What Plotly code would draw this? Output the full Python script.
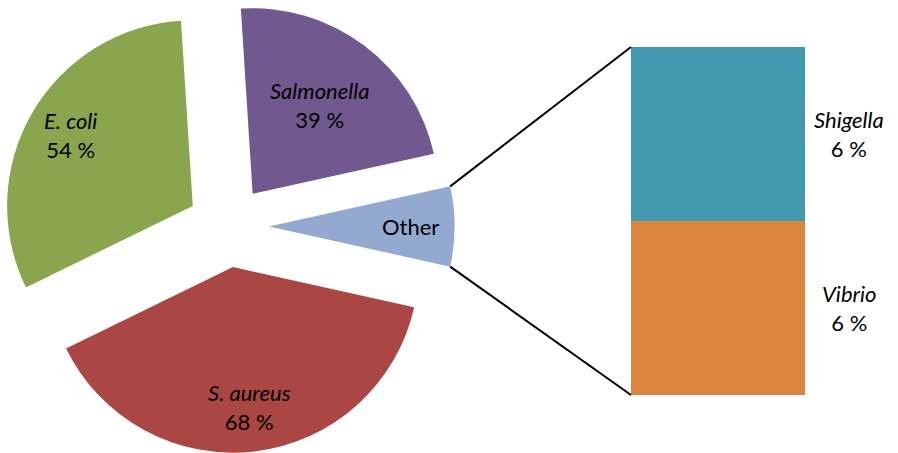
import math
import plotly.graph_objects as go

# pie slices, clockwise starting at "Other"
pie_labels = ['Other', 'S. aureus', 'E. coli', 'Salmonella']
pie_values = [12, 68, 54, 39]
pie_colors = ['#93A9CF', '#AA4643', '#89A54E', '#71588F']

# breakdown of "Other"
bar_labels = ['Vibrio', 'Shigella']
bar_values = [6, 6]
bar_colors = ['#DB843D', '#4198AF']

W, H = 898, 453
PULL = 0.22
FONT = 'Lato'
FSIZE = 22

pie_dom_x = [0, 0.508]
bar_dom_x = [631 / W, 805 / W]
bar_dom_y = [1 - 395 / H, 1 - 47 / H]

# where the data labels sit, as a fraction of the radius from the slice centre
label_r = {'Salmonella': 0.6}

total = sum(pie_values)
other_share = pie_values[0] / total
rotation = 90 - other_share * 180  # centre "Other" on 3 o'clock

fig = go.Figure()
fig.add_trace(go.Pie(
    labels=pie_labels, values=pie_values, textinfo='none',
    sort=False, direction='clockwise', rotation=rotation,
    pull=[PULL] * len(pie_values),
    marker=dict(colors=pie_colors),
    domain=dict(x=pie_dom_x, y=[0, 1]),
    showlegend=False, hoverinfo='label+value',
))

# pie geometry (same as plotly's own layout of the pie)
r = min(W * (pie_dom_x[1] - pie_dom_x[0]), H) / 2 / (1 + PULL)
cx0 = W * (pie_dom_x[0] + pie_dom_x[1]) / 2
cy0 = H / 2

start = 90 - rotation  # degrees, counter-clockwise from east
for lab, val in zip(pie_labels, pie_values):
    span = val / total * 360
    mid = math.radians(start - span / 2)
    start -= span
    k = label_r.get(lab, 0.76)
    x = cx0 + (PULL + k) * r * math.cos(mid)
    y = cy0 - (PULL + k) * r * math.sin(mid)
    txt = lab if lab == 'Other' else '<i>%s</i><br>%d %%' % (lab, val)
    fig.add_annotation(x=x / W, y=1 - y / H, xref='paper', yref='paper',
                       xanchor='center', yanchor='middle',
                       text=txt, showarrow=False, align='center',
                       font=dict(family=FONT, size=FSIZE, color='black'))

for lab, val, col in zip(bar_labels, bar_values, bar_colors):
    fig.add_trace(go.Bar(
        x=[0], y=[val], name=lab, marker=dict(color=col, line=dict(width=0)),
        xaxis='x2', yaxis='y2', width=1, showlegend=False,
    ))

# labels to the right of the stacked bar
cum = 0
for lab, val in zip(bar_labels, bar_values):
    fig.add_annotation(
        x=bar_dom_x[1] + 44 / W, xref='paper', y=cum + val / 2, yref='y2',
        xanchor='center', yanchor='middle',
        text='<i>%s</i><br>%d %%' % (lab, val), showarrow=False,
        font=dict(family=FONT, size=FSIZE, color='black'), align='center',
    )
    cum += val

# connector lines from the "Other" slice to the bar
cx = cx0 + PULL * r
half = other_share * math.pi
for sign, by in [(-1, bar_dom_y[1]), (1, bar_dom_y[0])]:
    px = cx + r * math.cos(half)
    py = cy0 + sign * r * math.sin(half)
    fig.add_shape(type='line', xref='paper', yref='paper',
                  x0=px / W, y0=1 - py / H, x1=bar_dom_x[0], y1=by,
                  line=dict(color='black', width=2))

fig.update_layout(
    width=W, height=H, margin=dict(l=0, r=0, t=0, b=0),
    paper_bgcolor='white', plot_bgcolor='white', barmode='stack',
    xaxis2=dict(domain=bar_dom_x, range=[-0.5, 0.5], visible=False, anchor='y2'),
    yaxis2=dict(domain=bar_dom_y, range=[0, sum(bar_values)], visible=False, anchor='x2'),
)

fig.write_html('out.html', config={'displayModeBar': False},
               post_script="document.body.style.margin = '0';")
